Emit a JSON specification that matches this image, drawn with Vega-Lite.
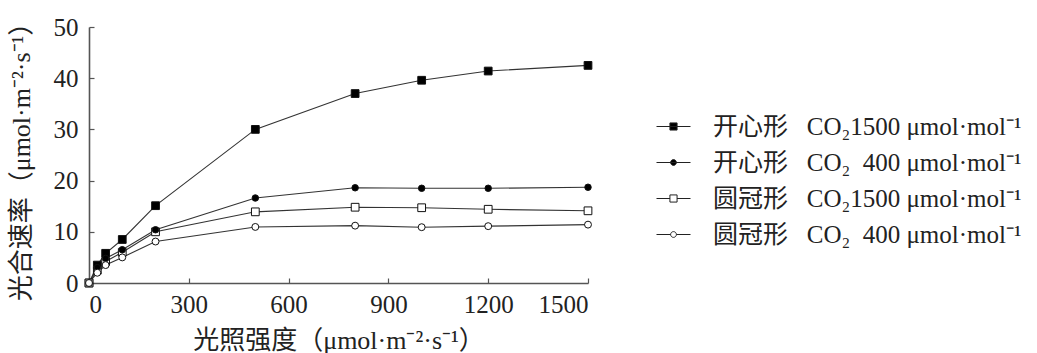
{
  "$schema": "https://vega.github.io/schema/vega-lite/v6.json",
  "autosize": "none",
  "width": 499,
  "height": 256,
  "padding": {"left": 89, "top": 27, "right": 449, "bottom": 70},
  "background": "white",
  "config": {
    "view": {"stroke": null},
    "font": "'Liberation Serif', 'Noto Sans CJK SC'",
    "axis": {
      "grid": false,
      "domainColor": "#555",
      "domainWidth": 1.6,
      "tickColor": "#555",
      "tickWidth": 1.2,
      "tickSize": -5,
      "labelFont": "'Liberation Serif', 'Noto Sans CJK SC'",
      "labelFontSize": 25,
      "labelColor": "#222",
      "titleFont": "'Liberation Serif', 'Noto Sans CJK SC'",
      "titleFontSize": 26,
      "titleFontWeight": "normal",
      "titleColor": "#222"
    },
    "legend": {
      "symbolStrokeColor": "#222",
      "symbolStrokeWidth": 1,
      "symbolOpacity": 1
    }
  },
  "data": {
    "values": [
      {"series": "开心形\u2002 CO₂1500 μmol·mol⁻¹", "light": 0, "rate": 0},
      {"series": "开心形\u2002 CO₂1500 μmol·mol⁻¹", "light": 25, "rate": 3.5},
      {"series": "开心形\u2002 CO₂1500 μmol·mol⁻¹", "light": 50, "rate": 5.8},
      {"series": "开心形\u2002 CO₂1500 μmol·mol⁻¹", "light": 100, "rate": 8.5},
      {"series": "开心形\u2002 CO₂1500 μmol·mol⁻¹", "light": 200, "rate": 15.1},
      {"series": "开心形\u2002 CO₂1500 μmol·mol⁻¹", "light": 500, "rate": 30},
      {"series": "开心形\u2002 CO₂1500 μmol·mol⁻¹", "light": 800, "rate": 37},
      {"series": "开心形\u2002 CO₂1500 μmol·mol⁻¹", "light": 1000, "rate": 39.6},
      {"series": "开心形\u2002 CO₂1500 μmol·mol⁻¹", "light": 1200, "rate": 41.4},
      {"series": "开心形\u2002 CO₂1500 μmol·mol⁻¹", "light": 1500, "rate": 42.5},
      {"series": "开心形\u2002 CO₂\u2002400 μmol·mol⁻¹", "light": 0, "rate": 0},
      {"series": "开心形\u2002 CO₂\u2002400 μmol·mol⁻¹", "light": 25, "rate": 3.0},
      {"series": "开心形\u2002 CO₂\u2002400 μmol·mol⁻¹", "light": 50, "rate": 4.8},
      {"series": "开心形\u2002 CO₂\u2002400 μmol·mol⁻¹", "light": 100, "rate": 6.5},
      {"series": "开心形\u2002 CO₂\u2002400 μmol·mol⁻¹", "light": 200, "rate": 10.4},
      {"series": "开心形\u2002 CO₂\u2002400 μmol·mol⁻¹", "light": 500, "rate": 16.6},
      {"series": "开心形\u2002 CO₂\u2002400 μmol·mol⁻¹", "light": 800, "rate": 18.6},
      {"series": "开心形\u2002 CO₂\u2002400 μmol·mol⁻¹", "light": 1000, "rate": 18.5},
      {"series": "开心形\u2002 CO₂\u2002400 μmol·mol⁻¹", "light": 1200, "rate": 18.5},
      {"series": "开心形\u2002 CO₂\u2002400 μmol·mol⁻¹", "light": 1500, "rate": 18.7},
      {"series": "圆冠形\u2002 CO₂1500 μmol·mol⁻¹", "light": 0, "rate": 0},
      {"series": "圆冠形\u2002 CO₂1500 μmol·mol⁻¹", "light": 25, "rate": 2.5},
      {"series": "圆冠形\u2002 CO₂1500 μmol·mol⁻¹", "light": 50, "rate": 4.2},
      {"series": "圆冠形\u2002 CO₂1500 μmol·mol⁻¹", "light": 100, "rate": 6.0},
      {"series": "圆冠形\u2002 CO₂1500 μmol·mol⁻¹", "light": 200, "rate": 10.0},
      {"series": "圆冠形\u2002 CO₂1500 μmol·mol⁻¹", "light": 500, "rate": 13.9},
      {"series": "圆冠形\u2002 CO₂1500 μmol·mol⁻¹", "light": 800, "rate": 14.8},
      {"series": "圆冠形\u2002 CO₂1500 μmol·mol⁻¹", "light": 1000, "rate": 14.7},
      {"series": "圆冠形\u2002 CO₂1500 μmol·mol⁻¹", "light": 1200, "rate": 14.4},
      {"series": "圆冠形\u2002 CO₂1500 μmol·mol⁻¹", "light": 1500, "rate": 14.1},
      {"series": "圆冠形\u2002 CO₂\u2002400 μmol·mol⁻¹", "light": 0, "rate": 0},
      {"series": "圆冠形\u2002 CO₂\u2002400 μmol·mol⁻¹", "light": 25, "rate": 2.0},
      {"series": "圆冠形\u2002 CO₂\u2002400 μmol·mol⁻¹", "light": 50, "rate": 3.5},
      {"series": "圆冠形\u2002 CO₂\u2002400 μmol·mol⁻¹", "light": 100, "rate": 5.0},
      {"series": "圆冠形\u2002 CO₂\u2002400 μmol·mol⁻¹", "light": 200, "rate": 8.1},
      {"series": "圆冠形\u2002 CO₂\u2002400 μmol·mol⁻¹", "light": 500, "rate": 10.95},
      {"series": "圆冠形\u2002 CO₂\u2002400 μmol·mol⁻¹", "light": 800, "rate": 11.2},
      {"series": "圆冠形\u2002 CO₂\u2002400 μmol·mol⁻¹", "light": 1000, "rate": 10.9},
      {"series": "圆冠形\u2002 CO₂\u2002400 μmol·mol⁻¹", "light": 1200, "rate": 11.1},
      {"series": "圆冠形\u2002 CO₂\u2002400 μmol·mol⁻¹", "light": 1500, "rate": 11.4}
    ]
  },
  "encoding": {
    "x": {
      "field": "light", "type": "quantitative",
      "scale": {"domain": [0, 1500], "nice": false, "zero": false},
      "axis": {"values": [0, 300, 600, 900, 1200, 1500], "format": "d", "labelPadding": 14, "title": "光照强度（μmol·m⁻²·s⁻¹）", "titlePadding": 10}
    },
    "y": {
      "field": "rate", "type": "quantitative",
      "scale": {"domain": [0, 50], "nice": false},
      "axis": {"values": [0, 10, 20, 30, 40, 50], "labelPadding": 16, "title": "光合速率（μmol·m⁻²·s⁻¹）", "titlePadding": 19}
    }
  },
  "layer": [
    {
      "mark": {"type": "line", "color": "#333", "strokeWidth": 1.1},
      "encoding": {"detail": {"field": "series"}}
    },
    {
      "transform": [{"filter": {"field": "series", "equal": "开心形\u2002 CO₂1500 μmol·mol⁻¹"}}],
      "mark": {"type": "point", "shape": "square", "size": 60, "stroke": "#111", "fill": "#000", "strokeWidth": 1, "opacity": 1}
    },
    {
      "transform": [{"filter": {"field": "series", "equal": "圆冠形\u2002 CO₂1500 μmol·mol⁻¹"}}],
      "mark": {"type": "point", "shape": "square", "size": 60, "stroke": "#111", "fill": "#fff", "strokeWidth": 1, "opacity": 1}
    },
    {
      "transform": [{"filter": {"field": "series", "equal": "开心形\u2002 CO₂\u2002400 μmol·mol⁻¹"}}],
      "mark": {"type": "point", "shape": "circle", "size": 42, "stroke": "#111", "fill": "#000", "strokeWidth": 1, "opacity": 1}
    },
    {
      "transform": [{"filter": {"field": "series", "equal": "圆冠形\u2002 CO₂\u2002400 μmol·mol⁻¹"}}],
      "mark": {"type": "point", "shape": "circle", "size": 48, "stroke": "#111", "fill": "#fff", "strokeWidth": 1, "opacity": 1}
    },
    {
      "mark": {"type": "point", "opacity": 0, "size": 1, "stroke": "#222", "strokeWidth": 1},
      "encoding": {
        "fill": {"field": "series", "type": "nominal",
          "scale": {"domain": ["开心形\u2002 CO₂1500 μmol·mol⁻¹", "开心形\u2002 CO₂\u2002400 μmol·mol⁻¹", "圆冠形\u2002 CO₂1500 μmol·mol⁻¹", "圆冠形\u2002 CO₂\u2002400 μmol·mol⁻¹"], "range": ["#000", "#000", "#fff", "#fff"]},
          "legend": {
            "title": null,
            "orient": "none",
            "legendX": 567,
            "legendY": 82,
            "padding": 0,
            "symbolSize": 1156,
            "symbolStrokeWidth": 1,
            "symbolStrokeColor": "#222",
            "symbolOpacity": 1,
            "labelFont": "'Liberation Serif', 'Noto Sans CJK SC'",
            "labelFontSize": 25,
            "labelColor": "#222",
            "labelOffset": 22,
            "labelLimit": 400,
            "rowPadding": 5,
            "encode": {"symbols": {"update": {"stroke": {"value": "#222"}, "strokeWidth": {"value": 1}, "opacity": {"value": 1}}}}
          }},
        "shape": {"field": "series", "type": "nominal",
          "scale": {"domain": ["开心形\u2002 CO₂1500 μmol·mol⁻¹", "开心形\u2002 CO₂\u2002400 μmol·mol⁻¹", "圆冠形\u2002 CO₂1500 μmol·mol⁻¹", "圆冠形\u2002 CO₂\u2002400 μmol·mol⁻¹"],
            "range": [
              "M-1,0H1M-0.21,-0.21H0.21V0.21H-0.21Z",
              "M-1,0H1M-0.17,0A0.17,0.17 0 1,1 0.17,0A0.17,0.17 0 1,1 -0.17,0Z",
              "M-1,0H-0.21M0.21,0H1M-0.21,-0.21H0.21V0.21H-0.21Z",
              "M-1,0H-0.17M0.17,0H1M-0.17,0A0.17,0.17 0 1,1 0.17,0A0.17,0.17 0 1,1 -0.17,0Z"
            ]},
          "legend": {
            "title": null,
            "orient": "none",
            "legendX": 567,
            "legendY": 82,
            "padding": 0,
            "symbolSize": 1156,
            "symbolStrokeWidth": 1,
            "symbolStrokeColor": "#222",
            "symbolOpacity": 1,
            "labelFont": "'Liberation Serif', 'Noto Sans CJK SC'",
            "labelFontSize": 25,
            "labelColor": "#222",
            "labelOffset": 22,
            "labelLimit": 400,
            "rowPadding": 5,
            "encode": {"symbols": {"update": {"stroke": {"value": "#222"}, "strokeWidth": {"value": 1}, "opacity": {"value": 1}}}}
          }
        }
      }
    }
  ]
}
